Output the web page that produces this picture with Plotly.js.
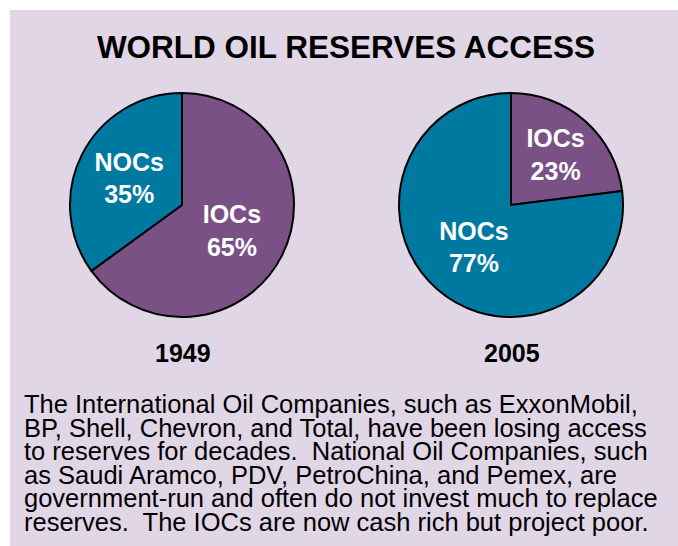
<!DOCTYPE html>
<html>
<head>
<meta charset="utf-8">
<script src="https://cdn.plot.ly/plotly-3.0.1.min.js"></script>
<style>
  html, body { margin: 0; padding: 0; background: #ffffff; }
  #chart { position: absolute; left: 10px; top: 10px; width: 668px; height: 536px; }
</style>
</head>
<body>
<div id="chart"></div>
<script>
// ---- data ----
const titleText = "WORLD OIL RESERVES ACCESS";
const years = ["1949", "2005"];
const companyLabels = ["IOCs", "NOCs"];
const shares1949 = [65, 35];
const shares2005 = [23, 77];
const noteLines = [
  "The International Oil Companies, such as ExxonMobil,",
  "BP, Shell, Chevron, and Total, have been losing access",
  "to reserves for decades.  National Oil Companies, such",
  "as Saudi Aramco, PDV, PetroChina, and Pemex, are",
  "government-run and often do not invest much to replace",
  "reserves.  The IOCs are now cash rich but project poor."
];

// ---- styling ----
const W = 668, H = 536;
const FONT = '"Liberation Sans", Arial, Helvetica, sans-serif';
const sliceColors = ["#7a5185", "#0079a0"];
const bg = "#e1d6e6";
const pieCenters = [[172, 195], [501, 195]];
const pieR = 112;

function pieDomain(cx, cy, r) {
  return {
    x: [(cx - r) / W, (cx + r) / W],
    y: [1 - (cy + r) / H, 1 - (cy - r) / H]
  };
}

function makePie(values, dom) {
  return {
    type: "pie",
    labels: companyLabels,
    values: values,
    sort: false,
    direction: "clockwise",
    rotation: 0,
    domain: dom,
    marker: { colors: sliceColors, line: { color: "#000000", width: 2 } },
    texttemplate: "<b>%{label}<br>%{value}%</b>",
    textposition: "inside",
    insidetextorientation: "horizontal",
    textfont: { family: FONT, size: 25, color: "#ffffff" },
    hoverinfo: "label+value",
    showlegend: false
  };
}

const data = [
  makePie(shares1949, pieDomain(pieCenters[0][0], pieCenters[0][1], pieR)),
  makePie(shares2005, pieDomain(pieCenters[1][0], pieCenters[1][1], pieR))
];

const yearAnnotations = years.map((y, i) => ({
  text: "<b>" + y + "</b>",
  xref: "paper", yref: "paper",
  x: (pieCenters[i][0] + 1) / W, y: 1 - 343 / H,
  xanchor: "center", yanchor: "middle",
  showarrow: false,
  font: { family: FONT, size: 25, color: "#000000" }
}));

const lineTop = 394, lineStep = 23.5;
const noteAnnotations = noteLines.map((t, i) => ({
  text: t,
  xref: "paper", yref: "paper",
  x: 12 / W, y: 1 - (lineTop + i * lineStep) / H,
  xanchor: "left", yanchor: "middle",
  showarrow: false,
  font: { family: FONT, size: 25.5, color: "#000000" }
}));

const layout = {
  width: W, height: H,
  margin: { l: 0, r: 0, t: 0, b: 0 },
  paper_bgcolor: bg,
  plot_bgcolor: bg,
  title: {
    text: "<b>" + titleText + "</b>",
    x: 336 / W, xanchor: "center",
    y: 1 - 37 / H, yanchor: "middle",
    font: { family: FONT, size: 31.5, color: "#000000" }
  },
  annotations: yearAnnotations.concat(noteAnnotations)
};

Plotly.newPlot("chart", data, layout, { displayModeBar: false, staticPlot: true });
</script>
</body>
</html>
